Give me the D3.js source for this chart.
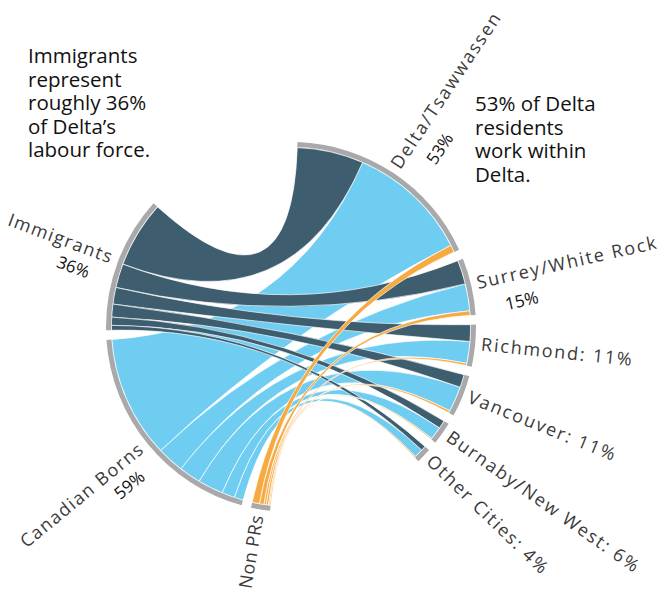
<!DOCTYPE html>
<html>
<head>
<meta charset="utf-8">
<script src="https://cdn.jsdelivr.net/npm/d3@7"></script>
<style>
  html, body { margin: 0; padding: 0; background: #fff; }
  svg { display: block; }
</style>
</head>
<body>
<svg id="chart" width="659" height="592"></svg>
<script>
// Where Delta's labour force comes from, and where it works
const origins = ["Immigrants", "Canadian Borns", "Non PRs"];
const originShares = ["36%", "59%", ""];
const destinations = ["Delta/Tsawwassen", "Surrey/White Rock", "Richmond", "Vancouver", "Burnaby/New West", "Other Cities"];
const destinationShares = ["53%", "15%", "11%", "11%", "6%", "4%"];

// Share of the labour force (%) by place of work, one array per origin
const immigrantFlows    = [18.0, 6.5, 4.5, 3.5, 2.2, 1.3];
const canadianBornFlows = [33.0, 7.3, 5.9, 6.9, 3.5, 2.4];
const nonPRFlows        = [2.0, 1.2, 0.6, 0.6, 0.3, 0.3];

const leftNote = ["Immigrants", "represent", "roughly 36%", "of Delta\u2019s", "labour force."];
const rightNote = ["53% of Delta", "residents", "work within", "Delta."];

// ---- layout ----
const width = 659, height = 592;
const svg = d3.select("#chart");
const cx = 291, cy = 327;
const rOuter = 185, rInner = 180;
const rad = Math.PI / 180;
const angleOf = d3.scaleLinear().domain([0, 100]).range([0, 119.5 * rad]);
const groupPad = 3 * rad;

const originColors = ["#3e5d6e", "#6fcdf2", "#f6aa42"];
const arcColor = "#a9a9ab";
const labelFont = "'Open Sans', sans-serif";
const noteFont = "'Open Sans', sans-serif";

const flows = [immigrantFlows, canadianBornFlows, nonPRFlows];
const originTotals = flows.map(f => d3.sum(f));
const destTotals = destinations.map((_, j) => d3.sum(flows, f => f[j]));

// places of work run clockwise from the top
let a = 2 * rad;
const destGroups = destinations.map((name, j) => {
  const g = { startAngle: a, endAngle: a + angleOf(destTotals[j]) };
  a = g.endAngle + groupPad;
  return g;
});

// origins run clockwise from the bottom: Non PRs, Canadian Borns, Immigrants
a = 186.5 * rad;
const originGroups = [];
[2, 1, 0].forEach(i => {
  originGroups[i] = { startAngle: a, endAngle: a + angleOf(originTotals[i]) };
  a = originGroups[i].endAngle + groupPad;
});

// sub-segments: inside an origin arc the places of work are stacked in reverse,
// inside a destination arc the origins are stacked Immigrants, Canadian Borns, Non PRs
const srcSeg = flows.map(() => []);
originGroups.forEach((g, i) => {
  let s = g.startAngle;
  for (let j = destinations.length - 1; j >= 0; j--) {
    const e = s + angleOf(flows[i][j]);
    srcSeg[i][j] = { startAngle: s, endAngle: e };
    s = e;
  }
});
const tgtSeg = flows.map(() => []);
destGroups.forEach((g, j) => {
  let s = g.startAngle;
  for (let i = 0; i < origins.length; i++) {
    const e = s + angleOf(flows[i][j]);
    tgtSeg[i][j] = { startAngle: s, endAngle: e };
    s = e;
  }
});

const root = svg.append("g").attr("transform", `translate(${cx},${cy})`);

// ribbons: Canadian Borns underneath, then Immigrants, then Non PRs
const ribbon = d3.ribbon().radius(rInner - 0.5);
[1, 0, 2].forEach(i => {
  root.append("g")
    .selectAll("path")
    .data(destinations.map((_, j) => ({ source: srcSeg[i][j], target: tgtSeg[i][j] })))
    .join("path")
    .attr("d", ribbon)
    .attr("fill", originColors[i])
    .attr("stroke", "#fff")
    .attr("stroke-width", 0.8)
    .attr("stroke-opacity", 0.85);
});

// outer arcs
const arc = d3.arc().innerRadius(rInner).outerRadius(rOuter);
root.append("g")
  .selectAll("path")
  .data(originGroups.concat(destGroups))
  .join("path")
  .attr("d", arc)
  .attr("fill", arcColor);

// radial labels
const labelGap = rOuter + 6;
const mid = g => (g.startAngle + g.endAngle) / 2 / rad;
const nameLabels = [];

destGroups.forEach((g, j) => {
  const t = root.append("g")
    .attr("transform", `rotate(${mid(g) - 90}) translate(${labelGap},0)`);
  const twoLine = j < 2;
  nameLabels.push(t.append("text")
    .attr("x", 0).attr("y", 4)
    .attr("font-family", labelFont).attr("font-size", 18)
    .attr("letter-spacing", 1.8)
    .attr("fill", "#3b3b3b")
    .text(twoLine ? destinations[j] : `${destinations[j]}: ${destinationShares[j]}`));
  if (twoLine) {
    t.append("text")
      .attr("x", 40).attr("y", 31)
      .attr("text-anchor", "middle")
      .attr("font-family", noteFont).attr("font-size", 17)
      .attr("fill", "#111")
      .text(destinationShares[j]);
  }
});

originGroups.forEach((g, i) => {
  const t = root.append("g")
    .attr("transform", `rotate(${mid(g) - 90}) translate(${labelGap},0) rotate(180)`);
  nameLabels.push(t.append("text")
    .attr("x", 0).attr("y", 4)
    .attr("text-anchor", "end")
    .attr("font-family", labelFont).attr("font-size", 18)
    .attr("letter-spacing", 1.5)
    .attr("fill", "#3b3b3b")
    .text(origins[i]));
  if (originShares[i]) {
    t.append("text")
      .attr("x", -34).attr("y", 26)
      .attr("text-anchor", "middle")
      .attr("font-family", noteFont).attr("font-size", 17)
      .attr("fill", "#111")
      .text(originShares[i]);
  }
});

// tighten any label that would run past the bottom edge
nameLabels.forEach(t => {
  let spacing = +t.attr("letter-spacing");
  let size = +t.attr("font-size");
  const over = () => t.node().getBoundingClientRect().bottom > height - 1;
  while (over() && spacing > 0) { spacing -= 0.25; t.attr("letter-spacing", spacing); }
  while (over() && size > 12) { size -= 0.5; t.attr("font-size", size); }
});

// side notes
function note(lines, x, y) {
  const g = svg.append("g")
    .attr("font-family", noteFont).attr("font-size", 20.5)
    .attr("fill", "#111");
  g.selectAll("text")
    .data(lines)
    .join("text")
    .attr("x", x)
    .attr("y", (d, k) => y + k * 23.5)
    .text(d => d);
}
note(leftNote, 28, 63);
note(rightNote, 475, 111);
</script>
</body>
</html>
